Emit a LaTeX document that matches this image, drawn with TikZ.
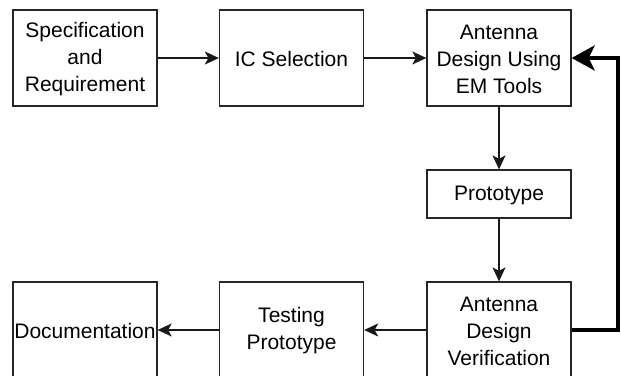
\documentclass[tikz,border=0pt]{standalone}
\usepackage{fontspec}
\setmainfont{Liberation Sans}
\usetikzlibrary{arrows.meta}
\begin{document}
\begin{tikzpicture}[x=1pt,y=-1pt,
  box/.style={draw=black!85, line width=1.3pt, minimum width=144pt, minimum height=96pt, inner sep=0pt},
  smallbox/.style={box, minimum height=48pt},
  lbl/.style={align=center, inner sep=0pt, text=black, yshift=-1pt, font=\fontsize{21}{27}\selectfont},
  flow/.style={draw=black!90, line width=1.3pt, -{Stealth[length=14pt,width=13pt,inset=3.5pt]}},
  back/.style={draw=black, line width=4.5pt, -{Stealth[length=23pt,width=25pt,inset=6pt]}}]
\useasboundingbox (0,0) rectangle (621,375);
\clip (0,0) rectangle (621,375);
\node[box, label={[lbl]center:{Specification\\and\\Requirement}}] (spec) at (85,58) {};
\node[box, label={[lbl]center:{IC Selection}}] (ic) at (291.5,58) {};
\node[box, label={[lbl]center:{Antenna\\Design Using\\EM Tools}}] (emd) at (499,58) {};
\node[smallbox, label={[lbl]center:{Prototype}}] (proto) at (499,194) {};
\node[box, label={[lbl]center:{Antenna\\Design\\Verification}}] (verif) at (499,330) {};
\node[box, label={[lbl]center:{Testing\\Prototype}}] (test) at (291.5,330) {};
\node[box, label={[lbl]center:{Documentation}}] (doc) at (85,330) {};
\coordinate (corner) at (618,330);
\draw[flow] (spec) -- (ic);
\draw[flow] (ic) -- (emd);
\draw[flow] (emd) -- (proto);
\draw[flow] (proto) -- (verif);
\draw[flow] (verif) -- (test);
\draw[flow] (test) -- (doc);
\draw[back] (verif.east) -- (corner) |- (emd.east);
\end{tikzpicture}
\end{document}
